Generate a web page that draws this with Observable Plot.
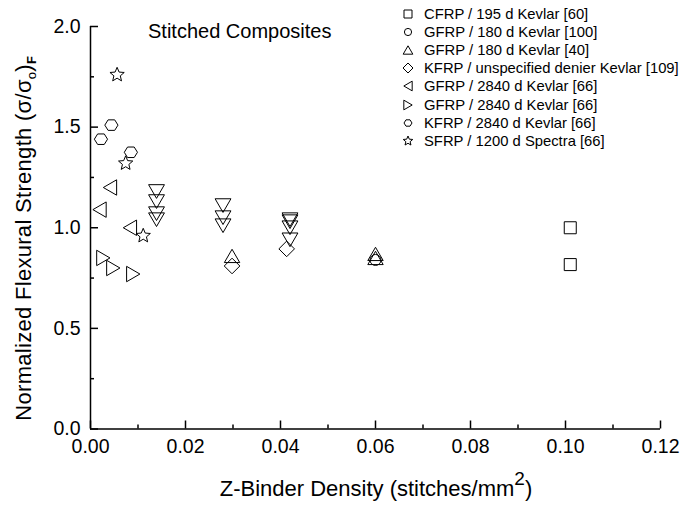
<!DOCTYPE html>
<html><head><meta charset="utf-8">
<script src="https://cdn.jsdelivr.net/npm/d3@7"></script>
<script src="https://cdn.jsdelivr.net/npm/@observablehq/plot@0.6"></script>
<style>
body{margin:0;background:#fff;}
#wrap{position:relative;width:683px;height:506px;font-family:"Liberation Sans",Arial,sans-serif;color:#000;}
#legend{position:absolute;left:400px;top:5px;font-size:14.8px;}
.row{display:flex;align-items:center;height:18.1px;white-space:nowrap;}
.row svg{width:16px;height:16px;margin-right:8px;overflow:visible;}
</style></head><body><div id="wrap"><div id="legend"></div></div>
<script>
// ---------- data ----------
const seriesNames = [
  "CFRP / 195 d Kevlar [60]",
  "GFRP / 180 d Kevlar [100]",
  "GFRP / 180 d Kevlar [40]",
  "KFRP / unspecified denier Kevlar [109]",
  "GFRP / 2840 d Kevlar [66]",
  "GFRP / 2840 d Kevlar [66]",
  "KFRP / 2840 d Kevlar [66]",
  "SFRP / 1200 d Spectra [66]",
  "(unlabelled, down triangles)"
];
const squareX = [0.101, 0.101];
const squareY = [1.00, 0.817];
const circleX = [0.060];
const circleY = [0.84];
const triUpX = [0.0298, 0.060, 0.060];
const triUpY = [0.86, 0.87, 0.85];
const diamondX = [0.0298, 0.0413];
const diamondY = [0.81, 0.895];
const triLeftX = [0.0019, 0.0041, 0.0083];
const triLeftY = [1.09, 1.20, 1.00];
const triRightX = [0.0027, 0.0048, 0.0090];
const triRightY = [0.85, 0.80, 0.77];
const hexX = [0.0022, 0.0044, 0.0085];
const hexY = [1.44, 1.51, 1.375];
const starX = [0.0056, 0.0074, 0.0111];
const starY = [1.76, 1.32, 0.96];
const triDownX = [0.0139, 0.0139, 0.0139, 0.0139, 0.0279, 0.0279, 0.0279, 0.042, 0.042, 0.042, 0.042];
const triDownY = [1.18, 1.13, 1.07, 1.04, 1.11, 1.05, 1.01, 1.04, 1.03, 1.00, 0.94];

const xMajor = [0, 0.02, 0.04, 0.06, 0.08, 0.10, 0.12];
const xMinor = [0.01, 0.03, 0.05, 0.07, 0.09, 0.11];
const yMajor = [0, 0.5, 1.0, 1.5, 2.0];
const yMinor = [0.25, 0.75, 1.25, 1.75];

// ---------- symbols ----------
const Rof = s => Math.sqrt(s / Math.PI);
const poly = (c, pts) => { c.moveTo(pts[0][0], pts[0][1]); for (const p of pts.slice(1)) c.lineTo(p[0], p[1]); c.closePath(); };
const symSquare = {draw(c, s){ const r = Rof(s); c.rect(-r, -r, 2*r, 2*r); }};
const symCircle = {draw(c, s){ const r = Rof(s); c.moveTo(r, 0); c.arc(0, 0, r, 0, 2*Math.PI); }};
const symTriUp = {draw(c, s){ const r = Rof(s), w = r*1.1, h = r*0.95; poly(c, [[0,-h],[w,h],[-w,h]]); }};
const symTriDown = {draw(c, s){ const r = Rof(s), w = r*1.1, h = r*0.95; poly(c, [[0,h],[w,-h],[-w,-h]]); }};
const symTriLeft = {draw(c, s){ const r = Rof(s), w = r*1.1, h = r*0.95; poly(c, [[-h,0],[h,-w],[h,w]]); }};
const symTriRight = {draw(c, s){ const r = Rof(s), w = r*1.1, h = r*0.95; poly(c, [[h,0],[-h,-w],[-h,w]]); }};
const symDiamond = {draw(c, s){ const r = Rof(s); poly(c, [[0,-r],[r,0],[0,r],[-r,0]]); }};
const symHex = {draw(c, s){ const r = Rof(s); poly(c, d3.range(6).map(i => [r*Math.cos(i*Math.PI/3), 0.92*r*Math.sin(i*Math.PI/3)])); }};
const symStar = {draw(c, s){ const r = Rof(s), ri = r*0.45; poly(c, d3.range(10).map(i => { const a = -Math.PI/2 + i*Math.PI/5, rr = i % 2 ? ri : r; return [rr*Math.cos(a), rr*Math.sin(a)]; })); }};

const series = [
  {name: seriesNames[0], x: squareX, y: squareY, symbol: symSquare, r: 6, lr: 4, legend: true},
  {name: seriesNames[1], x: circleX, y: circleY, symbol: symCircle, r: 5.5, lr: 3.6, legend: true},
  {name: seriesNames[2], x: triUpX, y: triUpY, symbol: symTriUp, r: 7, lr: 4.4, legend: true},
  {name: seriesNames[3], x: diamondX, y: diamondY, symbol: symDiamond, r: 7.8, lr: 5, legend: true},
  {name: seriesNames[4], x: triLeftX, y: triLeftY, symbol: symTriLeft, r: 7, lr: 4.4, legend: true},
  {name: seriesNames[5], x: triRightX, y: triRightY, symbol: symTriRight, r: 7, lr: 4.4, legend: true},
  {name: seriesNames[6], x: hexX, y: hexY, symbol: symHex, r: 6.6, lr: 4, legend: true},
  {name: seriesNames[7], x: starX, y: starY, symbol: symStar, r: 7.5, lr: 5, legend: true},
  {name: seriesNames[8], x: triDownX, y: triDownY, symbol: symTriDown, r: 7.2, lr: 4.4, legend: false}
];

const font = '"Liberation Sans", Arial, Helvetica, sans-serif';

const plot = Plot.plot({
  width: 683, height: 506,
  marginLeft: 90, marginRight: 23, marginTop: 26, marginBottom: 77.5,
  x: {domain: [0, 0.12]},
  y: {domain: [0, 2]},
  style: {fontFamily: font, fontSize: "19.5px", color: "#000", background: "#fff"},
  marks: [
    Plot.axisX({ticks: xMinor, tickSize: -4, tickFormat: () => "", strokeWidth: 1.5, label: null}),
    Plot.axisX({ticks: xMajor, tickSize: -8, tickPadding: 18, tickFormat: d3.format(".2f"), strokeWidth: 1.5, fontSize: 19.5, label: null}),
    Plot.axisY({ticks: yMinor, tickSize: -4, tickFormat: () => "", strokeWidth: 1.5, label: null}),
    Plot.axisY({ticks: yMajor, tickSize: -8, tickPadding: 18, tickFormat: d3.format(".1f"), strokeWidth: 1.5, fontSize: 19.5, label: null}),
    Plot.ruleX([0], {strokeWidth: 1.5}),
    Plot.ruleY([0], {strokeWidth: 1.5}),
    ...series.map(s => Plot.dot(d3.range(s.x.length), {
      x: i => s.x[i], y: i => s.y[i], symbol: s.symbol, r: s.r,
      stroke: "#000", fill: "none", strokeWidth: 1, title: () => s.name
    }))
  ]
});

document.getElementById("wrap").prepend(plot);

// ---------- axis titles & annotation ----------
const svg = d3.select(plot);
const xr = plot.scale("x").range, yr = plot.scale("y").range;

const xl = svg.append("text")
  .attr("x", (xr[0] + xr[1]) / 2 + 1).attr("y", 496)
  .attr("text-anchor", "middle").attr("font-size", 22).attr("font-family", font).attr("fill", "#000");
xl.append("tspan").text("Z-Binder Density (stitches/mm");
xl.append("tspan").attr("dy", -11).attr("font-size", 19).text("2");
xl.append("tspan").attr("dy", 11).text(")");

const yl = svg.append("text")
  .attr("transform", `translate(31,${(yr[0] + yr[1]) / 2 + 11}) rotate(-90)`)
  .attr("text-anchor", "middle").attr("font-size", 22).attr("letter-spacing", 0.3)
  .attr("font-family", font).attr("fill", "#000");
yl.append("tspan").text("Normalized Flexural Strength (σ/σ");
yl.append("tspan").attr("dy", 5).attr("font-size", 13).text("o");
yl.append("tspan").attr("dy", -5).text(")");
yl.append("tspan").attr("dy", 5).attr("font-size", 13).attr("font-weight", "bold").text("F");

svg.append("text")
  .attr("x", 148).attr("y", 37.5).attr("text-anchor", "start")
  .attr("font-size", 20).attr("font-family", font).attr("fill", "#000")
  .text("Stitched Composites");

// ---------- legend ----------
const legend = d3.select("#legend");
for (const s of series.filter(d => d.legend)) {
  const row = legend.append("div").attr("class", "row");
  row.append("svg").attr("viewBox", "-8 -8 16 16")
    .append("path").attr("d", d3.symbol(s.symbol, Math.PI * s.lr * s.lr)())
    .attr("fill", "none").attr("stroke", "#000").attr("stroke-width", 1);
  row.append("span").text(s.name);
}
</script>
</body></html>
